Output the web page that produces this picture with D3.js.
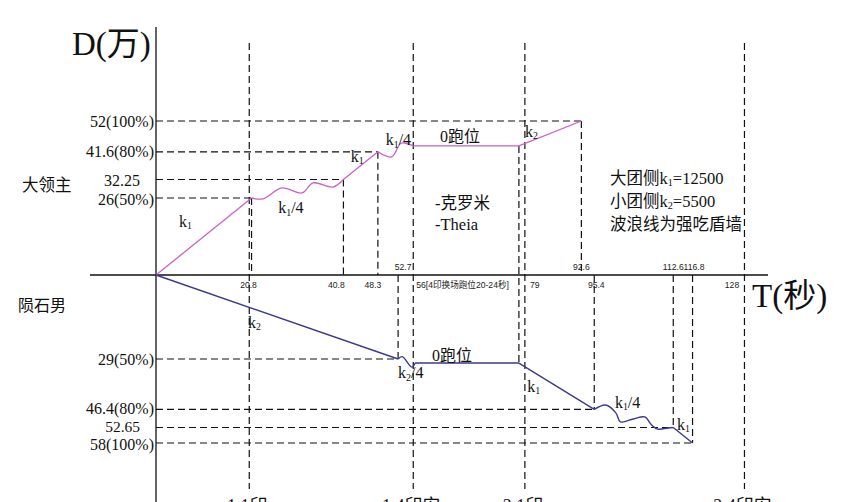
<!DOCTYPE html>
<html><head><meta charset="utf-8">
<script src="https://cdn.jsdelivr.net/npm/d3@7"></script>
<style>body{margin:0;background:#fff;overflow:hidden} svg{display:block}</style>
</head><body><svg id="c" width="845" height="502"></svg>
<script>
// ---------- data ----------
const axisTitles = {y: "D(万)", x: "T(秒)"};
const seriesNames = ["大领主", "陨石男"];
// 大领主 (plotted upward), [time s, D 万]
const lordSegments = [
  {wave:false, pts:[[0,0],[20.8,26]]},
  {wave:true,  pts:[[20.8,26],[23.3,25.7],[27.4,29.4],[31.8,27.7],[34.2,31.1],[38.5,29.7],[40.8,32.25]]},
  {wave:false, pts:[[40.8,32.25],[48.3,41.6]]},
  {wave:true,  pts:[[48.3,41.6],[51.3,39.9],[53.3,44.5],[54.5,44.4],[56,43.6]]},
  {wave:false, pts:[[56,43.6],[79,43.6],[92.6,52]]}
];
// 陨石男 (plotted downward)
const meteorSegments = [
  {wave:false, pts:[[0,0],[52.7,29]]},
  {wave:true,  pts:[[52.7,29],[53.6,28.2],[55.7,31.8],[56.4,30.4]]},
  {wave:false, pts:[[56.4,30.4],[79,30.4],[95.4,46.4]]},
  {wave:true,  pts:[[95.4,46.4],[97.9,44.9],[100.1,47.6],[101.1,50.7],[103.9,49.7],[106.4,49.0],[107.9,51.8],[109.2,53.2],[111.5,52.8],[112.6,52.65]]},
  {wave:false, pts:[[112.6,52.65],[116.8,58]]}
];
const lordKeyPoints   = [[20.8,26],[40.8,32.25],[48.3,41.6],[92.6,52]];
const meteorKeyPoints = [[52.7,29],[95.4,46.4],[112.6,52.65],[116.8,58]];
const sharedDrop = {t:79, lord:43.6, meteor:30.4};

const lordTickValues   = [52, 41.6, 32.25, 26];
const lordTickLabels   = ["52(100%)", "41.6(80%)", "32.25", "26(50%)"];
const meteorTickValues = [29, 46.4, 52.65, 58];
const meteorTickLabels = ["29(50%)", "46.4(80%)", "52.65", "58(100%)"];

const timeTickValues = [20.8, 40.8, 48.3, 52.7, 56, 79, 92.6, 95.4, 112.6, 116.8, 128];
const timeTickLabels = ["20.8","40.8","48.3","52.7","56[4印换场跑位20-24秒]","79","92.6","95.4","112.6","116.8","128"];

const eventTimes  = [20.3, 56, 80.3, 128.1];
const eventLabels = ["1.1印", "1.4印安", "2.1印", "2.4印安"];

// [text, time, value] anchor points for the segment notes
const lordNotes   = [["k_1",5,16.2],["k_1/4",26.6,20.9],["k_1",42.4,38.2],["k_1/4",50,43.8],["0跑位",61.8,44.9],["k_2",80.3,46.6]];
const meteorNotes = [["k_2",20,18.3],["k_2/4",52.7,35.6],["0跑位",60.1,29.7],["k_1",80.8,40.4],["k_1/4",99.9,45.9],["k_1",113.4,53.5]];
const legendLines = ["大团侧k_1=12500", "小团侧k_2=5500", "波浪线为强吃盾墙"];
const teamLines   = ["-克罗米", "-Theia"];

// ---------- layout ----------
const svg = d3.select("#c");
const X0 = 156, Y0 = 275;
const x   = d3.scaleLinear().domain([0,128]).range([X0, 744]);
const yUp = d3.scaleLinear().domain([0,52]).range([Y0, 121]);
const yDn = d3.scaleLinear().domain([0,58]).range([Y0, 443]);

const SERIF = "'Liberation Serif','DejaVu Serif','Noto Sans CJK SC',serif";
const SANS  = "'Liberation Sans','Noto Sans CJK SC',sans-serif";
const DASH = "7,4";

function richText(g, px, py, str, size, anchor){
  const t = g.append("text").attr("x",px).attr("y",py)
    .attr("font-size",size).attr("font-family",SERIF)
    .attr("text-anchor",anchor||"start").attr("fill","#111");
  const parts = str.split(/(_\d)/).filter(p=>p.length);
  const shift = size*0.15;
  let lowered = false;
  parts.forEach(p=>{
    if(p[0]==="_"){
      t.append("tspan").attr("font-size",size*0.62).attr("dy",shift).text(p.slice(1));
      lowered = true;
    } else {
      const ts = t.append("tspan").text(p);
      if(lowered){ ts.attr("dy",-shift); lowered=false; }
    }
  });
  return t;
}

const gGrid = svg.append("g").attr("stroke","#111").attr("stroke-width",1.2)
  .attr("stroke-dasharray",DASH).attr("fill","none");

// event lines
eventTimes.forEach(t=>{
  gGrid.append("line").attr("x1",x(t)).attr("x2",x(t)).attr("y1",43).attr("y2",489);
});
// drop lines
lordKeyPoints.forEach(([t,v])=>{
  gGrid.append("line").attr("x1",x(t)).attr("x2",x(t)).attr("y1",yUp(v)).attr("y2",Y0);
  gGrid.append("line").attr("x1",X0).attr("x2",x(t)).attr("y1",yUp(v)).attr("y2",yUp(v));
});
meteorKeyPoints.forEach(([t,v])=>{
  gGrid.append("line").attr("x1",x(t)).attr("x2",x(t)).attr("y1",Y0).attr("y2",yDn(v));
  gGrid.append("line").attr("x1",X0).attr("x2",x(t)).attr("y1",yDn(v)).attr("y2",yDn(v));
});
gGrid.append("line").attr("x1",x(sharedDrop.t)).attr("x2",x(sharedDrop.t))
  .attr("y1",yUp(sharedDrop.lord)).attr("y2",yDn(sharedDrop.meteor));

// axes
svg.append("line").attr("x1",X0).attr("x2",X0).attr("y1",27).attr("y2",502)
  .attr("stroke","#111").attr("stroke-width",1.3);
svg.append("line").attr("x1",90).attr("x2",768).attr("y1",Y0).attr("y2",Y0)
  .attr("stroke","#111").attr("stroke-width",1.3);

// series
function drawSeries(segs, yScale, color, w){
  segs.forEach(s=>{
    const gen = d3.line().x(d=>x(d[0])).y(d=>yScale(d[1]))
      .curve(s.wave ? d3.curveCatmullRom.alpha(0.5) : d3.curveLinear);
    svg.append("path").attr("d",gen(s.pts)).attr("fill","none")
      .attr("stroke",color).attr("stroke-width",w).attr("stroke-linejoin","round");
  });
}
drawSeries(lordSegments, yUp, "#cc5fcc", 1.3);
drawSeries(meteorSegments, yDn, "#3a3a8e", 1.4);

// y tick labels
const lordDy = {52:5.5, 41.6:5.5, 32.25:6.5, 26:7};
lordTickValues.forEach((v,i)=>{
  const lab = lordTickLabels[i];
  const xr = lab.includes("(") ? 154 : 140;
  svg.append("text").attr("x",xr).attr("y",yUp(v)+lordDy[v])
    .attr("text-anchor","end").attr("font-size",16).attr("font-family",SERIF)
    .attr("fill","#111").text(lab);
});
const meteorDy = {29:5.5, 46.4:5, 52.65:4.5, 58:7};
meteorTickValues.forEach((v,i)=>{
  const lab = meteorTickLabels[i];
  const xr = lab.includes("(") ? 154 : 140;
  svg.append("text").attr("x",xr).attr("y",yDn(v)+meteorDy[v]).attr("text-anchor","end")
    .attr("font-size",lab.includes("(") ? 16 : 15.5).attr("font-family",SERIF)
    .attr("fill","#111").text(lab);
});

// time tick labels
const above = new Set([52.7, 92.6, 112.6, 116.8]);
const tickDx = {20.8:-3, 40.8:-7, 48.3:-5, 52.7:5, 56:3, 79:11, 92.6:0, 95.4:2, 112.6:0, 116.8:1.5, 128:-12};
timeTickValues.forEach((t,i)=>{
  const anchor = (t===56 || t===79) ? "start" : "middle";
  svg.append("text").attr("x",x(t)+tickDx[t]).attr("y", above.has(t) ? Y0-5 : Y0+13)
    .attr("text-anchor",anchor).attr("font-size",8.6).attr("font-family",SANS)
    .attr("fill","#222").text(timeTickLabels[i]);
});

// event labels (cut by the lower edge, as in the reference)
eventTimes.forEach((t,i)=>{
  svg.append("text").attr("x",x(t)-2).attr("y",512).attr("text-anchor","middle")
    .attr("font-size",18).attr("font-family",SERIF).attr("fill","#111").text(eventLabels[i]);
});

// annotations
lordNotes.forEach(([s,t,v])=> richText(svg, x(t), yUp(v), s, 16, "start"));
meteorNotes.forEach(([s,t,v])=> richText(svg, x(t), yDn(v), s, 16, "start"));

legendLines.forEach((s,i)=> richText(svg, 610, 184 + i*23, s, 16.5, "start"));
teamLines.forEach((s,i)=> richText(svg, 435, 209 + i*21, s, 16.5, "start"));

// titles & series names
svg.append("text").attr("x",72).attr("y",55).attr("font-size",33)
  .attr("font-family",SERIF).attr("fill","#111").text(axisTitles.y);
svg.append("text").attr("x",752).attr("y",307).attr("font-size",33)
  .attr("font-family",SERIF).attr("fill","#111").text(axisTitles.x);
svg.append("text").attr("x",22).attr("y",191).attr("font-size",16.5)
  .attr("font-family",SANS).attr("fill","#111").text(seriesNames[0]);
svg.append("text").attr("x",18).attr("y",311).attr("font-size",16)
  .attr("font-family",SANS).attr("fill","#111").text(seriesNames[1]);
</script></body></html>
